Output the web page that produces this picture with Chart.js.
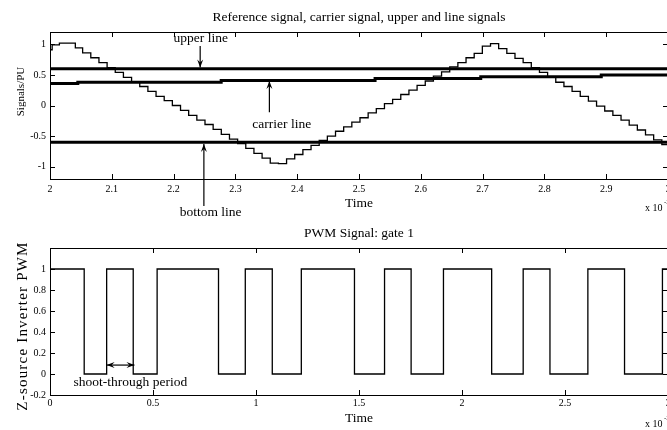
<!DOCTYPE html>
<html>
<head>
<meta charset="utf-8">
<script src="https://cdn.jsdelivr.net/npm/chart.js@4.4.0/dist/chart.umd.min.js"></script>
<style>
  html, body { margin: 0; padding: 0; background: #fff; }
  body { width: 667px; height: 430px; overflow: hidden; position: relative; }
  canvas { position: absolute; left: 0; }
  #topChart { top: 0; }
  #pwmChart { top: 215px; }
</style>
</head>
<body>
<canvas id="topChart" width="680" height="232"></canvas>
<canvas id="pwmChart" width="680" height="215"></canvas>
<script>
// sampled reference signal (staircase), time in ms (x 10^-3 s)
const refTimes = [2.0000, 2.0035, 2.0152, 2.0410,
    2.0528, 2.0660, 2.0792, 2.0924, 2.1056, 2.1188, 2.1320, 2.1452, 2.1584, 2.1716,
    2.1848, 2.1980, 2.2112, 2.2244, 2.2376, 2.2508, 2.2640, 2.2772, 2.2904, 2.3036,
    2.3168, 2.3300, 2.3432, 2.3564, 2.3696, 2.3828, 2.3960, 2.4092, 2.4224, 2.4356,
    2.4488, 2.4620, 2.4752, 2.4884, 2.5016, 2.5148, 2.5280, 2.5412, 2.5544, 2.5676,
    2.5808, 2.5940, 2.6072, 2.6204, 2.6336, 2.6468, 2.6600, 2.6732, 2.6864, 2.6996,
    2.7128, 2.7260, 2.7392, 2.7524, 2.7656, 2.7788, 2.7920, 2.8052, 2.8184, 2.8316,
    2.8448, 2.8580, 2.8712, 2.8844, 2.8976, 2.9108, 2.9240, 2.9372, 2.9504, 2.9636,
    2.9768, 2.9900, 3.0032];
const refValues = [0.91, 0.99, 1.02, 0.94,
    0.86, 0.78, 0.70, 0.62, 0.54, 0.46, 0.39, 0.31, 0.23, 0.15,
    0.08, 0.00, -0.08, -0.16, -0.24, -0.31, -0.39, -0.47, -0.55, -0.62,
    -0.70, -0.78, -0.86, -0.94, -0.95, -0.87, -0.80, -0.72, -0.65, -0.57,
    -0.50, -0.42, -0.35, -0.27, -0.20, -0.12, -0.05, 0.03, 0.10, 0.18,
    0.25, 0.33, 0.40, 0.48, 0.55, 0.63, 0.70, 0.78, 0.85, 0.97,
    1.01, 0.93, 0.85, 0.77, 0.70, 0.62, 0.54, 0.46, 0.38, 0.31,
    0.23, 0.15, 0.07, -0.01, -0.09, -0.16, -0.24, -0.32, -0.40, -0.48,
    -0.56, -0.64, -0.70];

const carrierTimes = [2.000, 2.045, 2.277, 2.526, 2.697, 2.892, 3.010];
const carrierValues = [0.36, 0.38, 0.41, 0.44, 0.47, 0.50, 0.50];

const levelTimes = [2, 3.01];
const upperLevel = [0.6, 0.6];
const bottomLevel = [-0.6, -0.6];

const topXTicks = [2, 2.1, 2.2, 2.3, 2.4, 2.5, 2.6, 2.7, 2.8, 2.9, 3];
const topYTicks = [-1, -0.5, 0, 0.5, 1];

// gate 1 PWM: switching instants and level after each one
const pwmTimes = [0, 0.166, 0.275, 0.404, 0.520, 0.818, 0.948, 1.079, 1.220, 1.478,
    1.624, 1.753, 1.910, 2.144, 2.297, 2.427, 2.611, 2.789, 2.973, 3.02];
const pwmLevels = [1, 0, 1, 0, 1, 0, 1, 0, 1, 0, 1, 0, 1, 0, 1, 0, 1, 0, 1, 1];

const pwmXTicks = [0, 0.5, 1, 1.5, 2, 2.5, 3];
const pwmYTicks = [-0.2, 0, 0.2, 0.4, 0.6, 0.8, 1];

const SERIF = '"Liberation Serif", "Times New Roman", serif';
const pts = (xs, ys) => xs.map((x, i) => ({ x, y: ys[i] }));

function arrowHead(ctx, x1, y1, x2, y2) {
    const a = Math.atan2(y2 - y1, x2 - x1);
    const c = Math.cos(a), s = Math.sin(a);
    ctx.beginPath();
    ctx.moveTo(x2, y2);
    ctx.lineTo(x2 - 8 * c + 3 * s, y2 - 8 * s - 3 * c);
    ctx.lineTo(x2 - 5 * c, y2 - 5 * s);
    ctx.lineTo(x2 - 8 * c - 3 * s, y2 - 8 * s + 3 * c);
    ctx.closePath();
    ctx.fill();
}

function arrow(ctx, x1, y1, x2, y2, both) {
    ctx.beginPath();
    ctx.moveTo(x1, y1);
    ctx.lineTo(x2, y2);
    ctx.stroke();
    arrowHead(ctx, x1, y1, x2, y2);
    if (both) arrowHead(ctx, x2, y2, x1, y1);
}

// box, inward ticks, y label, the "x 10^-3" exponent and the text notes
function decor(xTicks, yTicks, yLabel, notes) {
    return {
        id: 'decor',
        afterDraw(chart) {
            const { ctx, chartArea: a, scales: { x, y } } = chart;
            ctx.save();
            ctx.strokeStyle = '#000';
            ctx.fillStyle = '#000';
            ctx.lineWidth = 1;
            ctx.strokeRect(a.left + 0.5, a.top + 0.5, a.right - a.left, a.bottom - a.top);
            ctx.beginPath();
            xTicks.forEach((v) => {
                const px = Math.round(x.getPixelForValue(v)) + 0.5;
                ctx.moveTo(px, a.bottom); ctx.lineTo(px, a.bottom - 5);
                ctx.moveTo(px, a.top); ctx.lineTo(px, a.top + 5);
            });
            yTicks.forEach((v) => {
                const py = Math.round(y.getPixelForValue(v)) + 0.5;
                ctx.moveTo(a.left, py); ctx.lineTo(a.left + 5, py);
                ctx.moveTo(a.right, py); ctx.lineTo(a.right - 5, py);
            });
            ctx.stroke();

            ctx.textBaseline = 'middle';
            ctx.textAlign = 'left';
            ctx.font = '10px ' + SERIF;
            ctx.fillText('x 10', a.right - 23, a.bottom + 29);
            ctx.font = '7px ' + SERIF;
            ctx.fillText('-3', a.right - 4, a.bottom + 23);

            ctx.save();
            ctx.translate(yLabel.x, (a.top + a.bottom) / 2 + yLabel.shift);
            ctx.rotate(-Math.PI / 2);
            ctx.textAlign = 'center';
            ctx.font = yLabel.size + 'px ' + SERIF;
            ctx.letterSpacing = yLabel.spacing + 'px';
            ctx.fillText(yLabel.text, 0, 0);
            ctx.restore();

            ctx.lineWidth = 1.2;
            ctx.font = '13.5px ' + SERIF;
            ctx.textAlign = 'center';
            notes.forEach((n) => {
                if (n.text) ctx.fillText(n.text, x.getPixelForValue(n.x), y.getPixelForValue(n.y));
                if (n.from) {
                    arrow(ctx, x.getPixelForValue(n.from[0]), y.getPixelForValue(n.from[1]),
                        x.getPixelForValue(n.to[0]), y.getPixelForValue(n.to[1]), n.both);
                }
            });
            ctx.restore();
        },
    };
}

function axis(min, max, ticks, size, fit, padding, title) {
    return {
        type: 'linear',
        min, max,
        grid: { display: false, drawTicks: false },
        border: { display: false },
        afterBuildTicks: (s) => { s.ticks = ticks.map((v) => ({ value: v })); },
        afterFit: (s) => { s[size] = fit; },
        ticks: {
            autoSkip: false, maxRotation: 0, padding, color: '#000',
            font: { family: SERIF, size: 10 },
            callback: (v) => String(v),
        },
        title: title || { display: false },
    };
}

function baseOptions(titleText, titlePad, bottomPad, xAxis, yAxis) {
    return {
        responsive: false,
        animation: false,
        devicePixelRatio: 1,
        layout: { padding: { left: 0, right: 12, top: 0, bottom: bottomPad } },
        plugins: {
            legend: { display: false },
            tooltip: { enabled: false },
            title: {
                display: true, text: titleText, color: '#000', fullSize: false,
                font: { family: SERIF, size: 13.5, weight: 'normal' },
                padding: titlePad,
            },
        },
        scales: { x: xAxis, y: yAxis },
    };
}

const line = (data, width) => ({
    data, stepped: true, borderColor: '#000', borderWidth: width,
    pointRadius: 0, fill: false,
});

const timeTitle = {
    display: true, text: 'Time', color: '#000',
    font: { family: SERIF, size: 13.5 }, padding: { top: 0, bottom: 3 },
};

new Chart(document.getElementById('topChart'), {
    type: 'line',
    data: {
        datasets: [
            line(pts(levelTimes, upperLevel), 3),
            line(pts(levelTimes, bottomLevel), 3),
            line(pts(carrierTimes, carrierValues), 3),
            line(pts(refTimes, refValues), 1.3),
        ],
    },
    options: baseOptions(
        'Reference signal, carrier signal, upper and line signals',
        { top: 9, bottom: 6.8 }, 17,
        axis(2, 3, topXTicks, 'height', 36, 4, timeTitle),
        axis(-1.2, 1.2, topYTicks, 'width', 50, 4),
    ),
    plugins: [decor(topXTicks, topYTicks,
        { text: 'Signals/PU', x: 21, shift: -14, size: 11, spacing: 0 }, [
        { text: 'upper line', x: 2.244, y: 1.09, from: [2.243, 0.97], to: [2.243, 0.62] },
        { text: 'carrier line', x: 2.375, y: -0.31, from: [2.355, -0.11], to: [2.355, 0.40] },
        { text: 'bottom line', x: 2.26, y: -1.74, from: [2.249, -1.64], to: [2.249, -0.63] },
    ])],
});

new Chart(document.getElementById('pwmChart'), {
    type: 'line',
    data: { datasets: [line(pts(pwmTimes, pwmLevels), 1.3)] },
    options: baseOptions(
        'PWM Signal: gate 1',
        { top: 10, bottom: 6.8 }, 0,
        axis(0, 3, pwmXTicks, 'height', 35, 2.4, timeTitle),
        axis(-0.2, 1.2, pwmYTicks, 'width', 50, 4),
    ),
    plugins: [decor(pwmXTicks, pwmYTicks,
        { text: 'Z-source Inverter PWM', x: 23, shift: 4.5, size: 15, spacing: 1.2 }, [
        { from: [0.275, 0.085], to: [0.41, 0.085], both: true },
        { text: 'shoot-through period', x: 0.39, y: -0.085 },
    ])],
});
</script>
</body>
</html>
